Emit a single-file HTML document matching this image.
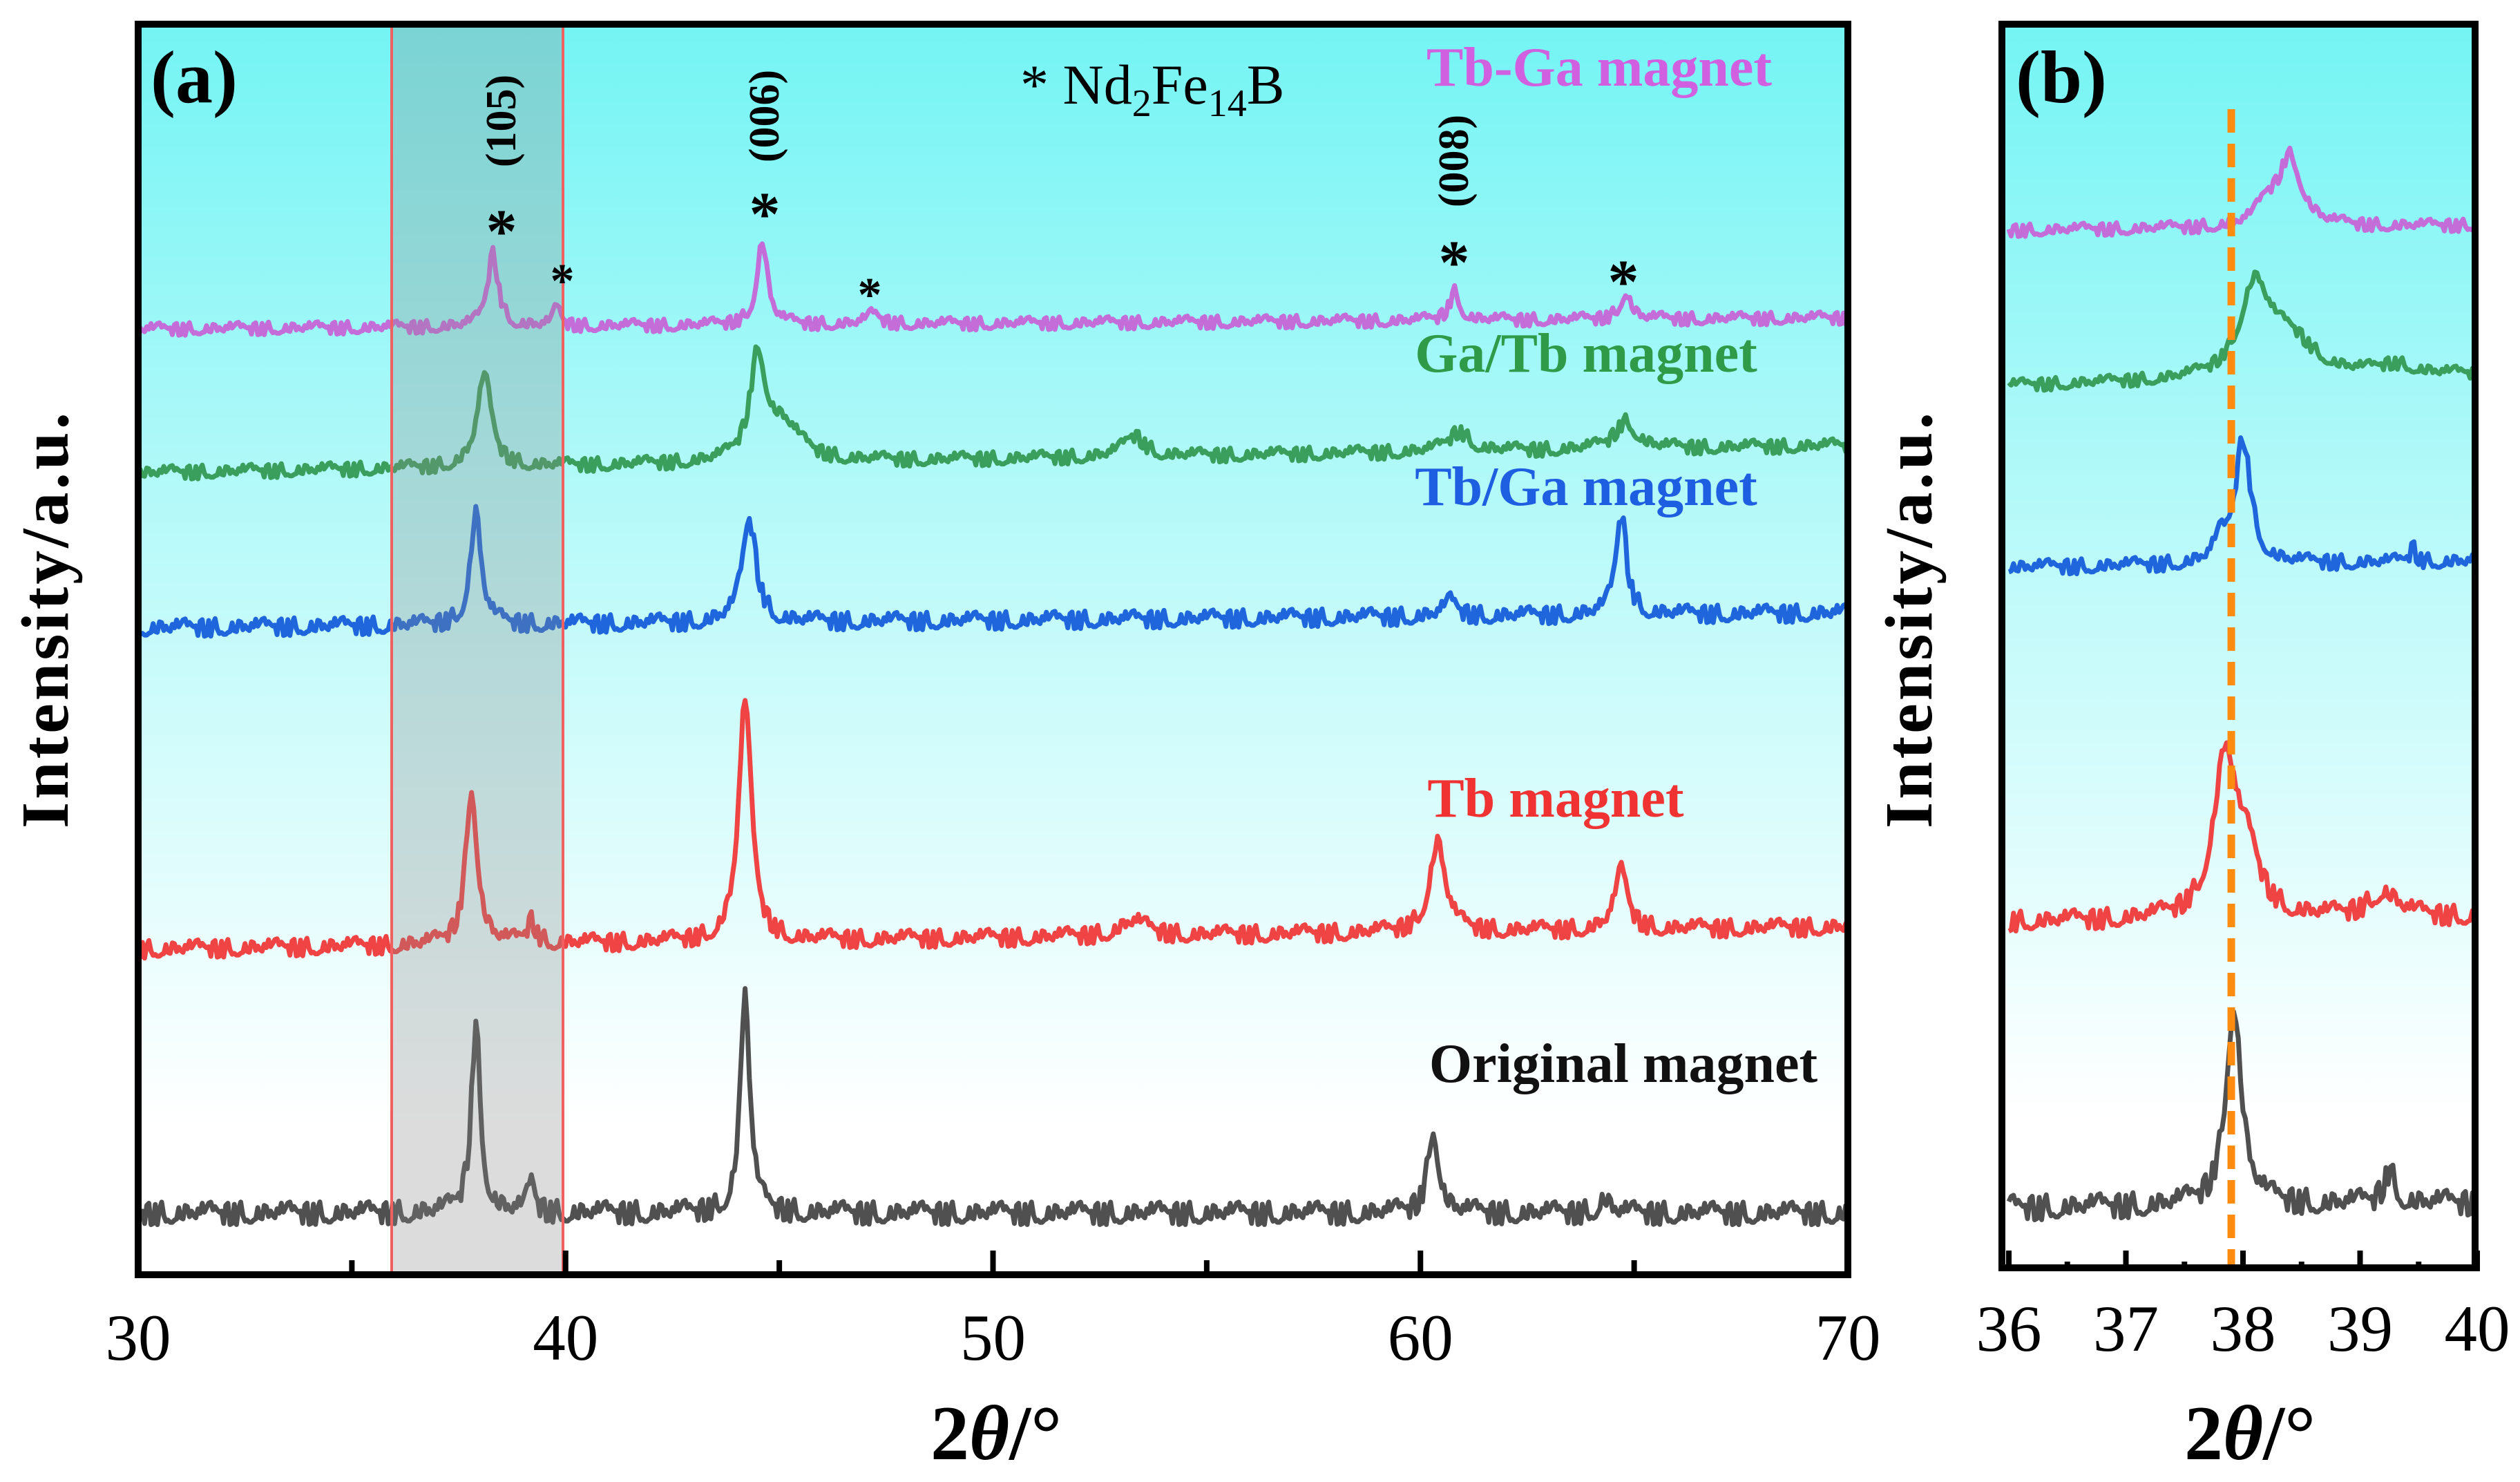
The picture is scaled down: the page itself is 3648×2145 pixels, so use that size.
<!DOCTYPE html>
<html><head><meta charset="utf-8"><style>
html,body{margin:0;padding:0;background:#fff;}
svg{display:block;font-family:"Liberation Serif",serif;}
</style></head><body>
<svg id="chart" width="3648" height="2145" viewBox="0 0 3648 2145" xmlns="http://www.w3.org/2000/svg">
<defs>
<linearGradient id="bg" x1="0" y1="0" x2="0" y2="1">
<stop offset="0" stop-color="#74f4f4"/><stop offset="0.45" stop-color="#c0fafa"/><stop offset="0.88" stop-color="#ffffff"/>
</linearGradient>
<clipPath id="clipA"><rect x="205" y="40" width="2465" height="1800"/></clipPath>
<clipPath id="clipB"><rect x="2903" y="40" width="675" height="1795"/></clipPath>
</defs>
<rect x="200" y="35" width="2475" height="1810" fill="url(#bg)"/>
<rect x="2898" y="35" width="685" height="1800" fill="url(#bg)"/>
<g id="seriesA" clip-path="url(#clipA)"></g>
<g id="seriesB" clip-path="url(#clipB)"></g>
<rect x="567" y="38" width="248" height="1807" fill="#8c8c8c" fill-opacity="0.3" stroke="#f06060" stroke-width="4"/>
<line id="refline" stroke="#ff8c10" stroke-width="11" stroke-dasharray="34,16"/>
<rect x="200" y="35" width="2475" height="1810" fill="none" stroke="#000" stroke-width="10"/>
<rect x="2898" y="35" width="685" height="1800" fill="none" stroke="#000" stroke-width="10"/>
<g id="ticks"></g>
<text x="218" y="148" font-size="108" font-weight="bold">(a)</text>
<text x="2918" y="148" font-size="108" font-weight="bold">(b)</text>
<text x="1477" y="150" font-size="82">* Nd<tspan font-size="56" dy="18">2</tspan><tspan dy="-18">Fe</tspan><tspan font-size="56" dy="18">14</tspan><tspan dy="-18">B</tspan></text>
<text x="2315" y="124" font-size="80" font-weight="bold" fill="#d060e0" text-anchor="middle">Tb-Ga magnet</text>
<text x="2296" y="538" font-size="80" font-weight="bold" fill="#2f9a48" text-anchor="middle">Ga/Tb magnet</text>
<text x="2296" y="731" font-size="80" font-weight="bold" fill="#1e5ee0" text-anchor="middle">Tb/Ga magnet</text>
<text x="2252" y="1182" font-size="80" font-weight="bold" fill="#f03232" text-anchor="middle">Tb magnet</text>
<text x="2350" y="1566" font-size="80" font-weight="bold" fill="#111" text-anchor="middle">Original magnet</text>
<text transform="translate(746,175) rotate(-90)" font-size="62" font-weight="bold" text-anchor="middle">(105)</text>
<text transform="translate(1127,168) rotate(-90)" font-size="62" font-weight="bold" text-anchor="middle">(006)</text>
<text transform="translate(2125,233) rotate(-90)" font-size="62" font-weight="bold" text-anchor="middle">(008)</text>
<g font-size="90" font-weight="bold" text-anchor="middle">
<text x="726" y="365">*</text>
<text x="814" y="430" font-size="70">*</text>
<text x="1107" y="340">*</text>
<text x="1259" y="450" font-size="70">*</text>
<text x="2105" y="410">*</text>
<text x="2350" y="438">*</text>
</g>
<text transform="translate(98,896) rotate(-90)" font-size="98" font-weight="bold" text-anchor="middle" letter-spacing="4">Intensity/a.u.</text>
<text transform="translate(2796,896) rotate(-90)" font-size="98" font-weight="bold" text-anchor="middle" letter-spacing="4">Intensity/a.u.</text>
<text x="1442" y="2112" font-size="112" font-weight="bold" text-anchor="middle">2<tspan font-style="italic">θ</tspan>/°</text>
<text x="3257" y="2112" font-size="112" font-weight="bold" text-anchor="middle">2<tspan font-style="italic">θ</tspan>/°</text>
</svg>
<script>
// ---- data (panel a) ----
const seriesNames = ['original', 'tb', 'tb-ga-slash', 'ga-tb', 'tb-ga'];
const seriesColors = ['#505050', '#f04444', '#1f66dc', '#3a9e5c', '#c46cd8'];
const baseStartA = [4.9, 26.0, 51.7, 64.1, 75.6];
const baseEndA = [4.9, 27.8, 52.9, 66.3, 76.5];
const noiseAmpA = [0.9, 0.7, 0.7, 0.55, 0.5];
const peaksOriginal = [[37.9, 15.0, 0.13], [39.2, 2.4, 0.1], [44.2, 17.8, 0.13], [60.3, 6.9, 0.15], [64.3, 1.2, 0.15]];
const peaksTb = [[37.8, 12.6, 0.16], [39.2, 1.8, 0.12], [44.2, 19.2, 0.18], [53.3, 1.2, 0.4], [60.4, 7.2, 0.22], [64.7, 4.7, 0.18]];
const peaksTbGaSlash = [[37.9, 9.0, 0.15], [44.3, 8.2, 0.2], [60.7, 1.2, 0.2], [64.7, 8.1, 0.15]];
const peaksGaTb = [[38.1, 7.3, 0.2], [44.5, 8.1, 0.22], [45.1, 2.8, 0.5], [53.3, 1.7, 0.3], [60.9, 1.6, 0.3], [64.8, 2.2, 0.3]];
const peaksTbGa = [[38.3, 5.9, 0.15], [39.8, 1.5, 0.1], [44.6, 6.7, 0.15], [47.2, 0.8, 0.2], [60.8, 2.3, 0.15], [64.8, 2.2, 0.15]];
const peaksA = [peaksOriginal, peaksTb, peaksTbGaSlash, peaksGaTb, peaksTbGa];
// ---- data (panel b) ----
const baseStartB = [4.8, 27.8, 56.3, 70.9, 83.4];
const baseEndB = [5.2, 28.2, 56.8, 71.8, 83.8];
const noiseAmpB = [1.0, 0.8, 0.6, 0.5, 0.5];
const peaksBOriginal = [[37.92, 16.2, 0.08], [39.25, 2.6, 0.06]];
const peaksBTb = [[37.85, 13.0, 0.12], [38.05, 4.0, 0.12], [39.2, 2.0, 0.15]];
const peaksBTbGaSlash = [[38.0, 10.1, 0.08], [37.8, 1.5, 0.06], [39.45, 1.2, 0.03]];
const peaksBGaTb = [[38.1, 7.1, 0.15], [38.4, 3.0, 0.25], [39.3, 0.8, 0.2]];
const peaksBTbGa = [[38.4, 5.6, 0.12], [38.2, 1.5, 0.1]];
const peaksB = [peaksBOriginal, peaksBTb, peaksBTbGaSlash, peaksBGaTb, peaksBTbGa];
const refLineX = [37.9];
const ticksA = [30, 40, 50, 60, 70];
const minorA = [35, 45, 55, 65];
const ticksB = [36, 37, 38, 39, 40];
const minorB = [36.5, 37.5, 38.5, 39.5];
const noise = [0.3,-0.8,0.5,1.0,-0.4,-1.0,0.7,0.1,-0.6,0.9,-0.2,0.4,-0.9,0.6,0.2,-0.5,1.0,-0.7,0.0,0.8,-0.3,-0.9,0.5,0.3,-0.6,0.9,-1.0,0.2,0.7,-0.4,0.6,-0.8,0.1,0.4,-0.2,0.9,-0.5];

const NS = 'http://www.w3.org/2000/svg';
const xA = v => 200 + (v - 30) / 40 * 2475;
const yA = v => 1845 - v * 18.1;
const xB = v => 2908 + (v - 36) / 4 * 678;
const yB = v => 1835 - v * 18.0;

function buildPath(peaks, b0, b1, amp, x0, x1, step, off, xf, yf) {
  let d = '', i = 0;
  for (let x = x0; x <= x1 + 1e-9; x += step, i++) {
    const t = (x - x0) / (x1 - x0);
    let v = b0 + (b1 - b0) * t + amp * noise[(i * 7 + off) % noise.length];
    for (const p of peaks) { const u = (x - p[0]) / p[2]; v += p[1] / (1 + u * u); }
    d += (i ? 'L' : 'M') + xf(x).toFixed(1) + ',' + yf(v).toFixed(1);
  }
  return d;
}
const gA = document.getElementById('seriesA');
const gB = document.getElementById('seriesB');
seriesNames.forEach((n, k) => {
  const pa = document.createElementNS(NS, 'path');
  pa.setAttribute('d', buildPath(peaksA[k], baseStartA[k], baseEndA[k], noiseAmpA[k], 30, 70, 0.05, k * 5, xA, yA));
  pa.setAttribute('fill', 'none'); pa.setAttribute('stroke', seriesColors[k]); pa.setAttribute('stroke-width', '7'); pa.setAttribute('stroke-linejoin', 'round');
  
  
  gA.appendChild(pa);
  const pb = document.createElementNS(NS, 'path');
  pb.setAttribute('d', buildPath(peaksB[k], baseStartB[k], baseEndB[k], noiseAmpB[k], 36, 40, 0.02, k * 3 + 2, xB, yB));
  pb.setAttribute('fill', 'none'); pb.setAttribute('stroke', seriesColors[k]); pb.setAttribute('stroke-width', '7'); pb.setAttribute('stroke-linejoin', 'round');
  
  
  gB.appendChild(pb);
});
const rl = document.getElementById('refline');
rl.setAttribute('x1', xB(refLineX[0])); rl.setAttribute('x2', xB(refLineX[0]));
rl.setAttribute('y1', 158); rl.setAttribute('y2', 1838);

const gT = document.getElementById('ticks');
function tick(x, y2len, name) {
  const l = document.createElementNS(NS, 'line');
  l.setAttribute('x1', x); l.setAttribute('x2', x); l.setAttribute('y1', 1840); l.setAttribute('y2', 1840 - y2len);
  l.setAttribute('stroke', '#000'); l.setAttribute('stroke-width', '8');
  
  
  gT.appendChild(l);
}
function label(x, y, s, name) {
  const t = document.createElementNS(NS, 'text');
  t.setAttribute('x', x); t.setAttribute('y', y); t.setAttribute('font-size', '95'); t.setAttribute('text-anchor', 'middle');
  t.textContent = s;
  
  
  gT.appendChild(t);
}
ticksA.forEach(v => { tick(xA(v), 30, 'x-tick-a-' + v); label(xA(v), 1968, v, 'x-tick-label-a-' + v); });
minorA.forEach(v => tick(xA(v), 16, 'x-minor-tick-a-' + v));
ticksB.forEach(v => { tick(xB(v), 30, 'x-tick-b-' + v); label(xB(v), 1955, v, 'x-tick-label-b-' + v); });
minorB.forEach(v => tick(xB(v), 14, 'x-minor-tick-b-' + v));
</script>
</body></html>
